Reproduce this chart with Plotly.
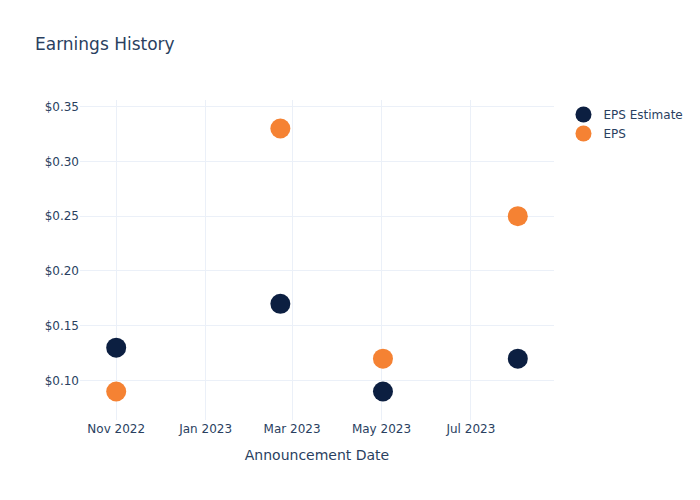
import plotly.graph_objects as go

dates = ["2022-11-01", "2023-02-21", "2023-05-02", "2023-08-02"]
eps_estimate = [0.13, 0.17, 0.09, 0.12]
eps_actual = [0.09, 0.33, 0.12, 0.25]

fig = go.Figure()
fig.add_trace(go.Scatter(x=dates, y=eps_estimate, mode="markers", name="EPS Estimate",
                         marker=dict(color="#0c1f41", size=20)))
fig.add_trace(go.Scatter(x=dates, y=eps_actual, mode="markers", name="EPS",
                         marker=dict(color="#f58233", size=20)))
fig.update_layout(
    template="plotly_white",
    width=700, height=500,
    font=dict(family="DejaVu Sans"),
    title=dict(text="Earnings History"),
    xaxis=dict(title=dict(text="Announcement Date"), dtick="M2", tickformat="%b %Y"),
    yaxis=dict(tickprefix="$", tickformat=".2f"),
)
fig.write_html("out.html", config={"displayModeBar": False},
               post_script="document.body.style.margin='0';")
